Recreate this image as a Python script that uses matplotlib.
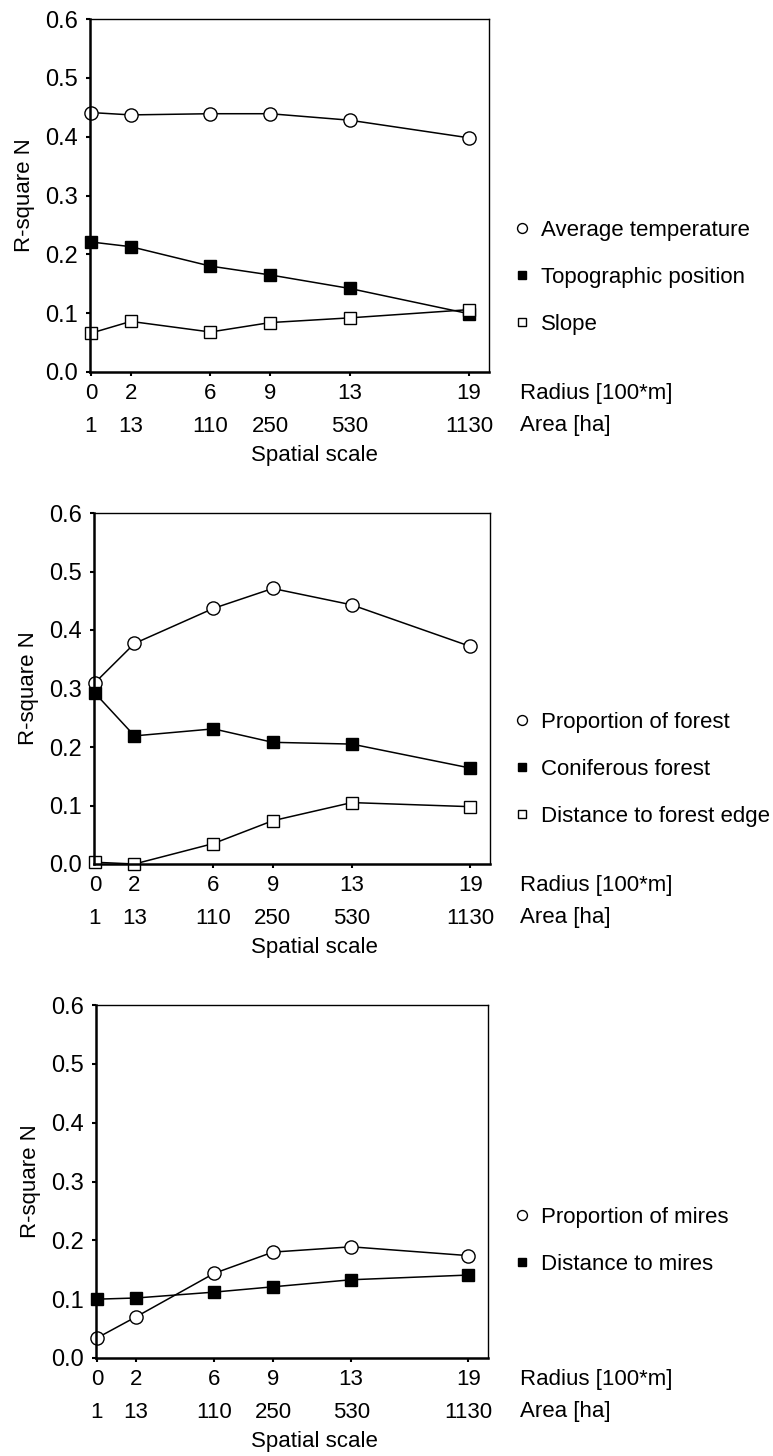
import matplotlib
matplotlib.use("Agg")
import matplotlib.pyplot as plt
import matplotlib.transforms as mtransforms

plt.rcParams['font.family'] = ['Liberation Sans', 'DejaVu Sans']

# spatial scale: radius [100*m] and area [ha]
radius = [0, 2, 6, 9, 13, 19]
area = ["1", "13", "110", "250", "530", "1130"]

# panel 1: climate / topography
avg_temp = [0.441, 0.437, 0.439, 0.439, 0.428, 0.398]
topo_pos = [0.221, 0.213, 0.180, 0.165, 0.142, 0.099]
slope = [0.066, 0.086, 0.068, 0.084, 0.092, 0.106]

# panel 2: forest
prop_forest = [0.310, 0.377, 0.437, 0.471, 0.443, 0.372]
conif_forest = [0.292, 0.219, 0.231, 0.208, 0.205, 0.164]
dist_forest_edge = [0.003, 0.000, 0.035, 0.074, 0.105, 0.098]

# panel 3: mires
prop_mires = [0.034, 0.070, 0.144, 0.180, 0.189, 0.174]
dist_mires = [0.100, 0.102, 0.112, 0.121, 0.133, 0.141]

W, H = 773, 1456
fig = plt.figure(figsize=(W / 100, H / 100), dpi=100)

# axes boxes in pixels: left, top, right, bottom
boxes = [(90, 19, 489, 372), (94, 513, 490, 864), (96, 1005, 488, 1358)]

styles = {
    "circle": dict(marker="o", mfc="white", mec="black", ms=9.5),
    "filled": dict(marker="s", mfc="black", mec="black", ms=8),
    "open": dict(marker="s", mfc="white", mec="black", ms=8),
}

panels = [
    [(avg_temp, "circle", "Average temperature"),
     (topo_pos, "filled", "Topographic position"),
     (slope, "open", "Slope")],
    [(prop_forest, "circle", "Proportion of forest"),
     (conif_forest, "filled", "Coniferous forest"),
     (dist_forest_edge, "open", "Distance to forest edge")],
    [(prop_mires, "circle", "Proportion of mires"),
     (dist_mires, "filled", "Distance to mires")],
]
legend_top = [228, 720, 1215]  # pixel y of first legend row

fs = 16
for (l, t, r, b), series, ly in zip(boxes, panels, legend_top):
    ax = fig.add_axes([l / W, 1 - b / H, (r - l) / W, (b - t) / H])
    for vals, st, lab in series:
        ax.plot(radius, vals, color="black", lw=1.1, label=lab,
                clip_on=False, **styles[st])
    ax.set_xlim(-0.05, 20)
    ax.set_ylim(0, 0.6)
    ax.set_yticks([0.0, 0.1, 0.2, 0.3, 0.4, 0.5, 0.6])
    ax.set_yticklabels([f"{v:.1f}" for v in ax.get_yticks()], fontsize=17)
    ax.set_xticks(radius)
    ax.set_xticklabels([str(x) for x in radius], fontsize=fs)
    ax.tick_params(axis="both", direction="out", length=3, width=1.5, pad=5)
    ax.tick_params(axis="y", pad=6)
    for sp in ax.spines.values():
        sp.set_linewidth(1.0)
    ax.spines["left"].set_linewidth(1.8)
    ax.spines["bottom"].set_linewidth(1.8)
    ax.set_ylabel("R-square N", fontsize=fs, labelpad=7)

    h_ax = b - t
    w_ax = r - l
    trans = mtransforms.blended_transform_factory(ax.transData, ax.transAxes)
    for x, a in zip(radius, area):
        ax.text(x, -54 / h_ax, a, transform=trans, ha="center", va="center",
                fontsize=fs)
    ax.text((520 - l) / w_ax, -21 / h_ax, "Radius [100*m]", transform=ax.transAxes,
            ha="left", va="center", fontsize=fs)
    ax.text((520 - l) / w_ax, -54 / h_ax, "Area [ha]", transform=ax.transAxes,
            ha="left", va="center", fontsize=fs)
    ax.text((314 - l) / w_ax, -84 / h_ax, "Spatial scale", transform=ax.transAxes,
            ha="center", va="center", fontsize=fs)

    leg = ax.legend(loc="upper left", frameon=False, fontsize=fs,
                    bbox_to_anchor=((514 - l) / w_ax, (b - ly + 8) / h_ax),
                    handlelength=0.7, handletextpad=0.5, labelspacing=1.16,
                    markerscale=0.75, borderaxespad=0, borderpad=0)
    for line in leg.get_lines():
        line.set_linestyle("none")

fig.savefig("out.png", dpi=100)
